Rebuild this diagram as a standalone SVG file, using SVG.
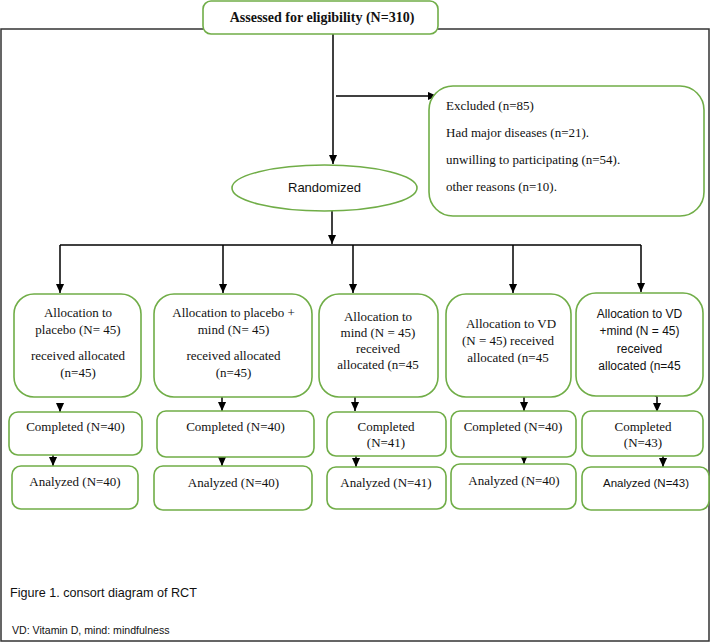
<svg xmlns="http://www.w3.org/2000/svg" width="710" height="644" viewBox="0 0 710 644">
<defs>
<marker id="ah" viewBox="0 0 10 10" refX="10" refY="5" markerWidth="9" markerHeight="9" markerUnits="userSpaceOnUse" orient="auto">
<path d="M0,0.5 L10,5 L0,9.5 z" fill="#000"/>
</marker>
</defs>
<style>
.box{fill:#fff;stroke:#70ad47;stroke-width:1.6}
.ln{fill:none;stroke:#000;stroke-width:1.5}
.ar{fill:none;stroke:#000;stroke-width:1.5;marker-end:url(#ah)}
.s{font-family:"Liberation Serif","Times New Roman",serif;font-size:13px;fill:#111;text-anchor:middle}
.sl{font-family:"Liberation Serif","Times New Roman",serif;font-size:13px;fill:#111}
.ss{font-family:"Liberation Sans",Arial,sans-serif;fill:#111;text-anchor:middle}
.cap{font-family:"Liberation Sans",Arial,sans-serif;fill:#111}
</style>
<rect width="710" height="644" fill="#fff"/>
<g id="frame">
<path d="M1,641 L1,29 L709,29 L709,641 Z" fill="none" stroke="#333" stroke-width="1.5"/>
</g>
<g id="connectors">
<path class="ar" d="M333,34 L333,164"/>
<path class="ar" d="M336,96 L437,96"/>
<path class="ar" d="M332,211 L332,244"/>
<path class="ln" d="M60,245 L641,245"/>
<path class="ar" d="M60,245 L60,293"/>
<path class="ar" d="M223,245 L223,293"/>
<path class="ar" d="M353,245 L353,293"/>
<path class="ar" d="M513,245 L513,293"/>
<path class="ar" d="M641,245 L641,292"/>
<path class="ar" d="M60,403 L60,412"/>
<path class="ar" d="M222,397 L222,411"/>
<path class="ar" d="M352,395 L355,397 L355,411"/>
<path class="ar" d="M524,397 L524,411"/>
<path class="ar" d="M654,395 L657,397 L657,412"/>
<path class="ar" d="M53,455 L53,466"/>
<path class="ar" d="M222,456 L222,466"/>
<path class="ar" d="M356,456 L356,467"/>
<path class="ar" d="M524,457 L524,464"/>
<path class="ar" d="M663,456 L663,467"/>
</g>
<g id="assessed">
<rect class="box" x="203" y="1" width="235" height="33" rx="8"/>
<text x="322" y="22" style="font-family:'Liberation Serif','Times New Roman',serif;font-size:14px;font-weight:bold;fill:#111;text-anchor:middle">Assessed for eligibility (N=310)</text>
</g>
<g id="excluded">
<rect class="box" x="429" y="86" width="275" height="130" rx="24"/>
<text class="sl" x="446" y="110">Excluded (n=85)</text>
<text class="sl" x="446" y="137">Had major diseases (n=21).</text>
<text class="sl" x="446" y="164">unwilling to participating (n=54).</text>
<text class="sl" x="446" y="191">other reasons (n=10).</text>
</g>
<g id="randomized">
<ellipse class="box" cx="324.5" cy="188" rx="92.5" ry="23"/>
<text class="ss" x="324.5" y="192" font-size="13">Randomized</text>
</g>
<g id="alloc1">
<rect class="box" x="14" y="294" width="127" height="103" rx="20"/>
<text class="s" x="78" y="317">Allocation to</text>
<text class="s" x="78" y="334">placebo (N= 45)</text>
<text class="s" x="78" y="360">received allocated</text>
<text class="s" x="78" y="377">(n=45)</text>
</g>
<g id="alloc2">
<rect class="box" x="154" y="294" width="158" height="103" rx="20"/>
<text class="s" x="233.5" y="317">Allocation to placebo +</text>
<text class="s" x="233.5" y="334">mind (N= 45)</text>
<text class="s" x="233.5" y="360">received allocated</text>
<text class="s" x="233.5" y="377">(n=45)</text>
</g>
<g id="alloc3">
<rect class="box" x="319" y="294" width="119" height="103" rx="20"/>
<text class="s" x="378" y="321">Allocation to</text>
<text class="s" x="378" y="337">mind (N = 45)</text>
<text class="s" x="378" y="353">received</text>
<text class="s" x="378" y="369">allocated (n=45</text>
</g>
<g id="alloc4">
<rect class="box" x="446" y="294" width="125" height="103" rx="20"/>
<text class="s" x="511" y="328">Allocation to VD</text>
<text class="s" x="508" y="345">(N = 45) received</text>
<text class="s" x="508" y="362">allocated (n=45</text>
</g>
<g id="alloc5">
<rect class="box" x="576" y="293" width="127" height="103" rx="20"/>
<text class="ss" x="639.5" y="318" font-size="12">Allocation to VD</text>
<text class="ss" x="639.5" y="335" font-size="12">+mind (N = 45)</text>
<text class="ss" x="639.5" y="353" font-size="12">received</text>
<text class="ss" x="639.5" y="370" font-size="12">allocated (n=45</text>
</g>
<g id="completed1">
<rect class="box" x="9" y="412" width="133" height="43" rx="9"/>
<text class="s" x="75.5" y="431">Completed (N=40)</text>
</g>
<g id="completed2">
<rect class="box" x="157" y="411" width="157" height="46" rx="9"/>
<text class="s" x="235.5" y="431">Completed (N=40)</text>
</g>
<g id="completed3">
<rect class="box" x="327" y="412" width="119" height="44" rx="9"/>
<text class="s" x="386" y="431">Completed</text>
<text class="s" x="386" y="447">(N=41)</text>
</g>
<g id="completed4">
<rect class="box" x="451" y="411" width="125" height="46" rx="9"/>
<text class="s" x="513" y="431">Completed (N=40)</text>
</g>
<g id="completed5">
<rect class="box" x="582" y="411" width="121" height="45" rx="9"/>
<text class="s" x="643" y="431">Completed</text>
<text class="s" x="643" y="447">(N=43)</text>
</g>
<g id="analyzed1">
<rect class="box" x="12" y="466" width="126" height="43" rx="9"/>
<text class="s" x="75" y="486">Analyzed (N=40)</text>
</g>
<g id="analyzed2">
<rect class="box" x="154" y="466" width="158" height="44" rx="9"/>
<text class="s" x="233.5" y="487">Analyzed (N=40)</text>
</g>
<g id="analyzed3">
<rect class="box" x="327" y="467" width="119" height="42" rx="9"/>
<text class="s" x="386" y="487">Analyzed (N=41)</text>
</g>
<g id="analyzed4">
<rect class="box" x="451" y="464" width="125" height="45" rx="9"/>
<text class="s" x="514" y="485">Analyzed (N=40)</text>
</g>
<g id="analyzed5">
<rect class="box" x="582" y="467" width="127" height="43" rx="9"/>
<text class="ss" x="646" y="487" font-size="11.5">Analyzed (N=43)</text>
</g>
<g id="caption">
<text class="cap" x="10" y="597" font-size="12.6">Figure 1. consort diagram of RCT</text>
<text class="cap" x="12" y="634" font-size="10.6">VD: Vitamin D, mind: mindfulness</text>
</g>
</svg>
